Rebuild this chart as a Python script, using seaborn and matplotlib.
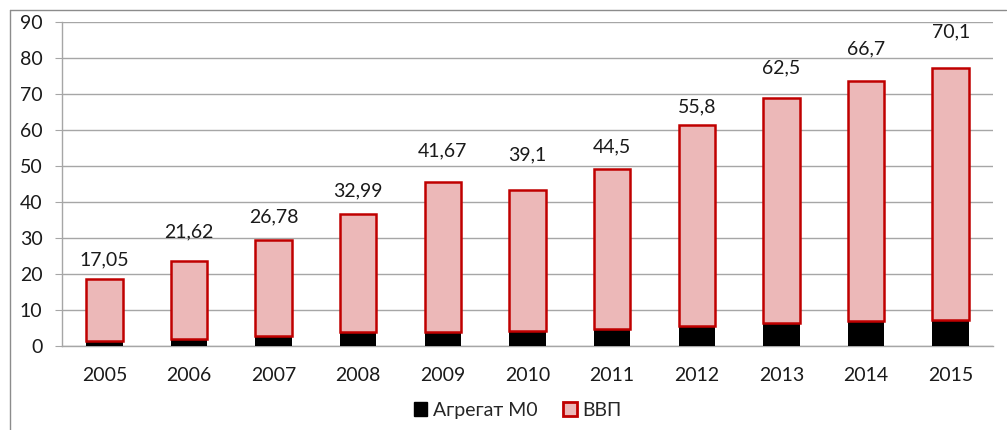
import matplotlib
matplotlib.use("Agg")
import matplotlib.pyplot as plt
import seaborn as sns
import pandas as pd
import numpy as np
from matplotlib.lines import Line2D
from matplotlib.patches import Patch

# data
years = ['2005', '2006', '2007', '2008', '2009', '2010',
         '2011', '2012', '2013', '2014', '2015']
m0 = [1.5, 1.9, 2.8, 3.8, 3.8, 4.2, 4.8, 5.7, 6.4, 6.9, 7.1]
gdp = [17.05, 21.62, 26.78, 32.99, 41.67, 39.1, 44.5, 55.8, 62.5, 66.7, 70.1]
gdp_labels = ['17,05', '21,62', '26,78', '32,99', '41,67', '39,1',
              '44,5', '55,8', '62,5', '66,7', '70,1']

sns.set_style('white')
plt.rcParams['font.family'] = ['Lato', 'Open Sans', 'DejaVu Sans']

df = pd.DataFrame({'year': years, 'm0': m0, 'gdp': gdp})

fig = plt.figure(figsize=(10.07, 4.30), dpi=100)
ax = fig.add_axes([0.0616, 0.1953, 0.9245, 0.7535])

grid_col = '#a6a6a6'
pink = '#ecb8b8'
red = '#c00000'
txt = '#1a1a1a'

sns.barplot(data=df, x='year', y='m0', color='black', width=0.43,
            saturation=1, linewidth=0, ax=ax, zorder=3)
sns.barplot(data=df, x='year', y='gdp', color=pink, width=0.43,
            saturation=1, bottom=df['m0'].values, edgecolor=red,
            linewidth=1.8, ax=ax, zorder=3)

# value labels, nudged by hand in the original
gaps = [19, 29, 23, 23, 31, 35, 22, 18, 30, 32, 36]
for i, (lab, b, v) in enumerate(zip(gdp_labels, m0, gdp)):
    ax.annotate(lab, (i, b + v), xytext=(0, gaps[i]), textcoords='offset pixels',
                ha='center', va='center', fontsize=14, color=txt)

ax.set_ylim(0, 90)
ax.set_yticks(np.arange(0, 91, 10))
ax.set_xlim(-0.5, len(years) - 0.5)
ax.yaxis.grid(True, color=grid_col, linewidth=1)
ax.set_axisbelow(True)
ax.set_xlabel('')
ax.set_ylabel('')

for s in ['top', 'right']:
    ax.spines[s].set_visible(False)
for s in ['left', 'bottom']:
    ax.spines[s].set_color(grid_col)
    ax.spines[s].set_linewidth(1)

ax.set_xticks(np.arange(-0.5, len(years), 1), minor=True)
ax.tick_params(axis='x', which='major', length=0, pad=15, labelsize=14,
               labelcolor=txt)
ax.tick_params(axis='x', which='minor', length=5, color=grid_col, direction='out')
ax.tick_params(axis='y', length=5, color=grid_col, direction='out', pad=9,
               labelsize=14, labelcolor=txt, left=True)

handles = [Patch(facecolor='black', edgecolor='black', label='Агрегат М0'),
           Patch(facecolor=pink, edgecolor=red, linewidth=2, label='ВВП')]
fig.legend(handles=handles, loc='center', bbox_to_anchor=(0.514, 0.0465),
           ncol=2, frameon=False, fontsize=14, handlelength=0.7,
           handleheight=0.7, handletextpad=0.3, columnspacing=1.3)

# outer chart frame (clipped on the right and bottom in the original)
fig.add_artist(Line2D([10 / 1007, 1006 / 1007], [1 - 10 / 430, 1 - 10 / 430],
                      color='#8c8c8c', linewidth=1))
fig.add_artist(Line2D([10 / 1007, 10 / 1007], [0, 1 - 10 / 430],
                      color='#8c8c8c', linewidth=1))

fig.savefig('out.png', dpi=100)
